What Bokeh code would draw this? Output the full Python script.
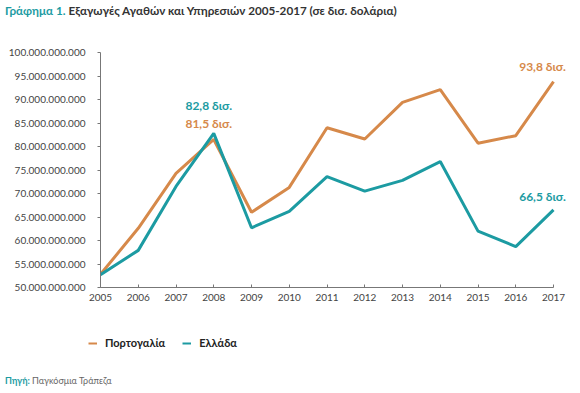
from bokeh.plotting import figure
from bokeh.models import Label, Legend, LegendItem, FixedTicker, Range1d, Div
from bokeh.layouts import column, row
from bokeh.embed import file_html
from bokeh.resources import INLINE

years = list(range(2005, 2018))
portugal = [52.8, 62.6, 74.3, 81.5, 66.0, 71.3, 84.0, 81.6, 89.4, 92.1, 80.7, 82.3, 93.8]
greece = [52.7, 57.9, 71.5, 82.8, 62.7, 66.2, 73.6, 70.5, 72.8, 76.8, 62.0, 58.7, 66.5]
y_ticks = [50, 55, 60, 65, 70, 75, 80, 85, 90, 95, 100]
y_tick_labels = ["50.000.000.000", "55.000.000.000", "60.000.000.000", "65.000.000.000",
                 "70.000.000.000", "75.000.000.000", "80.000.000.000", "85.000.000.000",
                 "90.000.000.000", "95.000.000.000", "100.000.000.000"]
series_names = ["Πορτογαλία", "Ελλάδα"]

ORANGE = "#D6894A"
TEAL = "#1C9BA2"
FONT = "Lato"

title = Div(text=('<span style="color:%s;font-weight:bold">Γράφημα 1.</span> '
                  '<span style="color:#333333;font-weight:bold">Εξαγωγές Αγαθών και Υπηρεσιών '
                  '2005-2017 (σε δισ. δολάρια)</span>') % TEAL,
            width=570, height=20,
            styles={"font-family": FONT, "font-size": "11.7px", "line-height": "10px"})

p = figure(width=575, height=285, output_backend="svg", toolbar_location=None,
           x_range=Range1d(2005, 2017.45), y_range=Range1d(50, 100),
           min_border_left=100, min_border_right=5, min_border_top=22, min_border_bottom=28)
p.outline_line_color = None
p.grid.grid_line_color = None

pl = p.line(years, portugal, line_color=ORANGE, line_width=3)
gl = p.line(years, greece, line_color=TEAL, line_width=3)

p.xaxis.ticker = FixedTicker(ticks=years)
p.xaxis.bounds = (2005, 2017)
p.yaxis.ticker = FixedTicker(ticks=y_ticks)
p.yaxis.major_label_overrides = {t: l for t, l in zip(y_ticks, y_tick_labels)}
for ax in (p.xaxis[0], p.yaxis[0]):
    ax.axis_line_color = "#777777"
    ax.major_tick_line_color = "#777777"
    ax.minor_tick_line_color = None
    ax.major_label_text_font = FONT
    ax.major_label_text_font_size = "10px"
    ax.major_label_text_color = "#444444"
p.xaxis.major_tick_in = 3
p.xaxis.major_tick_out = 0
p.xaxis.major_label_standoff = 6
p.yaxis.major_tick_in = 0
p.yaxis.major_tick_out = 3
p.yaxis.major_label_standoff = 12

def lab(x, y, text, color, yoff, xoff=0):
    p.add_layout(Label(x=x, y=y, text=text, text_color=color, text_font=FONT,
                       text_font_size="12px", text_font_style="bold",
                       text_align="center", text_baseline="middle", y_offset=yoff, x_offset=xoff))

lab(2008, greece[3], "82,8 δισ.", TEAL, 28, xoff=-5)
lab(2008, portugal[3], "81,5 δισ.", ORANGE, 16, xoff=-5)
lab(2017, portugal[12], "93,8 δισ.", ORANGE, 15, xoff=-11)
lab(2017, greece[12], "66,5 δισ.", TEAL, 13, xoff=-11)

# legend strip (lines drawn outside the visible range; only their legend glyphs show)
lf = figure(width=575, height=54, output_backend="svg", toolbar_location=None,
            x_range=Range1d(0, 1), y_range=Range1d(0, 1),
            x_axis_type=None, y_axis_type=None,
            min_border_left=0, min_border_right=0, min_border_top=0, min_border_bottom=0)
lf.outline_line_color = None
lf.grid.grid_line_color = None
lpl = lf.line([5, 6], [5, 6], line_color=ORANGE, line_width=2)
lgl = lf.line([5, 6], [5, 6], line_color=TEAL, line_width=2)
legend = Legend(items=[LegendItem(label=series_names[0], renderers=[lpl]),
                       LegendItem(label=series_names[1], renderers=[lgl])],
                orientation="horizontal", location=(88, 20),
                label_text_font=FONT, label_text_font_size="11px", label_text_font_style="bold",
                label_text_color="#222222", glyph_width=9, glyph_height=12,
                label_standoff=8, spacing=17, padding=0, margin=0,
                border_line_color=None, background_fill_alpha=0)
lf.add_layout(legend, "center")

source = Div(text=('<span style="color:%s;font-weight:bold">Πηγή:</span> '
                   '<span style="color:#666666">Παγκόσμια Τράπεζα</span>') % TEAL,
             width=570, height=20,
             styles={"font-family": FONT, "font-size": "9px", "line-height": "14px"})

layout = column(title, p, row(lf), source, spacing=0)
open("out.html", "w").write(file_html(layout, INLINE))
